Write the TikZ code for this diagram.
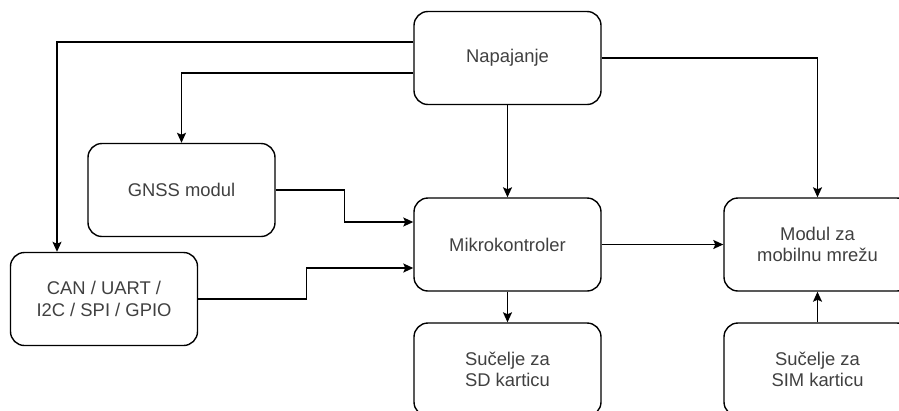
\documentclass[tikz,border=0pt]{standalone}
\usepackage{fontspec}
\setmainfont{Liberation Sans}
\usetikzlibrary{arrows.meta}

\begin{document}
\begin{tikzpicture}[x=1pt, y=-1pt,
	blok/.style={draw, line width=1.4pt, rounded corners=14pt, minimum width=187pt, minimum height=93pt,
		inner sep=0pt, align=center, text=black!75, font=\fontsize{18.4}{21.5}\selectfont},
	veza/.style={line width=1.4pt, -{Stealth[length=10pt, width=9pt, inset=2pt]}}]
	\useasboundingbox (0,0) rectangle (899,410);
	\clip (0,0) rectangle (899,410);

	\node[blok] (napajanje) at (507.5,58) {Napajanje};
	\node[blok] (gnss) at (181.5,190) {GNSS modul};
	\node[blok] (mikro) at (507.5,244.5) {Mikrokontroler};
	\node[blok] (modul) at (817.5,244.5) {Modul za\\mobilnu mrežu};
	\node[blok] (can) at (104,299) {CAN / UART /\\I2C / SPI / GPIO};
	\node[blok] (sd) at (507.5,369.5) {Sučelje za\\SD karticu};
	\node[blok] (sim) at (817.5,369.5) {Sučelje za\\SIM karticu};

	\draw [veza] ([yshift=16pt]napajanje.west) -| ([xshift=-47pt]can.north);
	\draw [veza] ([yshift=-15pt]napajanje.west) -| (gnss.north);
	\draw [veza] (napajanje) -- (mikro);
	\draw [veza] (napajanje.east) -| (modul.north);

	\draw [veza] (gnss.east) -- ++(69,0) |- ([yshift=22.5pt]mikro.west);
	\draw [veza] (can.east) -- ++(108,0) |- ([yshift=-23.5pt]mikro.west);

	\draw [veza] (mikro) -- (modul);
	\draw [veza] (mikro) -- (sd);
	\draw [veza] (sim) -- (modul);
\end{tikzpicture}
\end{document}
